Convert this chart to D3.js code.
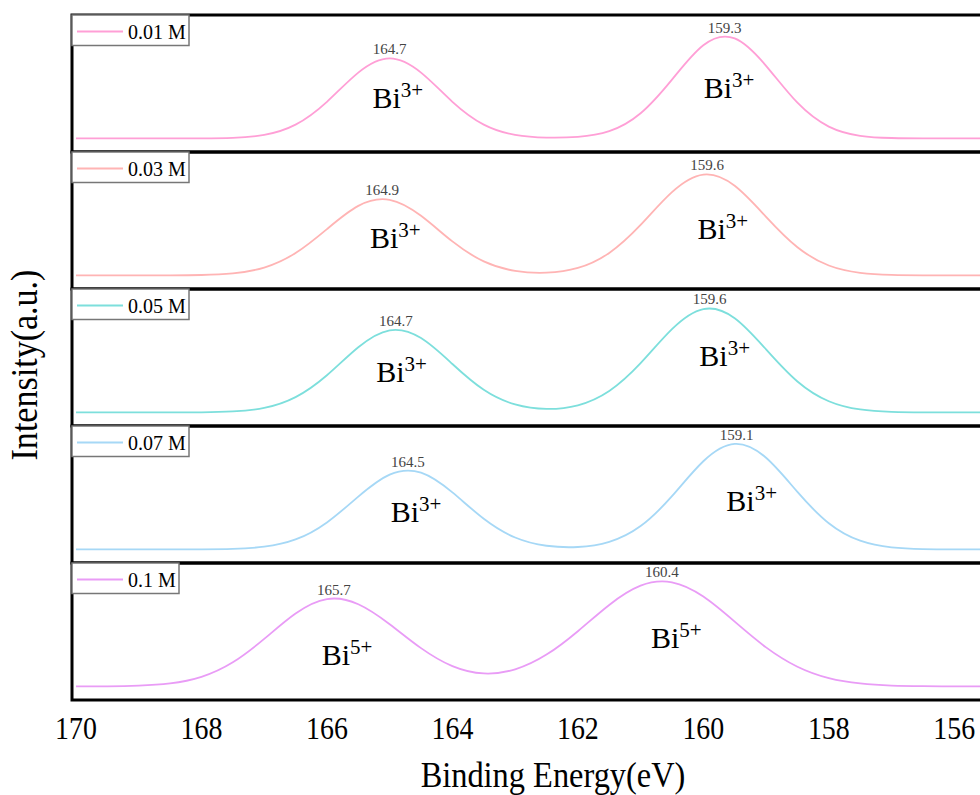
<!DOCTYPE html>
<html>
<head>
<meta charset="utf-8">
<script src="https://cdn.jsdelivr.net/npm/d3@7"></script>
<style>
  body { margin: 0; background: #fff; }
  svg { display: block; }
</style>
</head>
<body>
<svg width="980" height="795"></svg>
<script>
// binding energy grid (eV), read every 0.5 eV
energy = [170,169.5,169,168.5,168,167.5,167,166.5,166,165.5,165,164.5,164,163.5,163,162.5,162,161.5,161,160.5,160,159.5,159,158.5,158,157.5,157,156.5,156,155.5,155];

// intensity (a.u.), each panel
s001 = [0,0,0,0,0.1,0.6,3.4,13.2,35.0,62.9,76.5,62.9,35.0,13.2,3.4,0.8,1.5,6.9,24.0,56.2,89.1,95.6,69.4,34.1,11.3,2.5,0.4,0,0,0,0];
s003 = [0,0,0,0.1,0.4,1.9,7.5,21.4,44.3,66.5,72.3,57.0,32.5,13.4,4.3,2.6,7.1,21.5,48.3,79.6,96.4,85.7,56.0,26.9,9.5,2.5,0.5,0.1,0,0,0];
s005 = [0,0,0,0,0.1,0.9,4.3,14.6,35.5,62.3,78.5,71.1,46.3,21.6,7.6,3.3,6.8,20.5,47.1,79.6,98.8,90.1,60.3,29.6,10.7,2.8,0.6,0.1,0,0,0];
s007 = [0,0,0,0,0.1,0.5,2.6,9.5,25.8,50.5,71.5,73.4,54.5,29.3,11.4,3.5,2.3,7.2,22.3,50.9,84.3,100.9,87.6,55.0,25.0,8.3,2.0,0.3,0,0,0];
s010 = [0,0.1,0.7,2.8,9.1,23.0,45.4,69.7,83.5,78.6,59.5,36.6,19.4,12.4,16.3,30.4,52.8,77.9,96.3,99.5,85.9,61.9,37.3,18.8,7.9,2.8,0.8,0.2,0,0,0];

names = ["0.01 M","0.03 M","0.05 M","0.07 M","0.1 M"];
colors = ["#ff9fd6","#ffb4b4","#7ddfdc","#a6d8f6","#e99cf6"];

// peak value labels: text and [energy, intensity] where they sit
peakText = [["164.7","159.3"],["164.9","159.6"],["164.7","159.6"],["164.5","159.1"],["165.7","160.4"]];
peakAt = [[[165.0,76.5],[159.66,97]],[[165.12,73],[159.94,97]],[[164.9,79],[159.9,99.5]],[[164.71,75],[159.47,101]],[[165.89,84],[160.66,100.5]]];

// oxidation state labels
ionText = [["3+","3+"],["3+","3+"],["3+","3+"],["3+","3+"],["5+","5+"]];
ionAt = [[[164.87,28.7],[159.59,38.2]],[[164.91,25.8],[159.69,34.4]],[[164.81,29],[159.66,44]],[[164.58,25.8],[159.23,36.3]],[[165.68,20],[160.43,36.3]]];

xTicks = [170,168,166,164,162,160,158,156];

const serif = '"Liberation Serif", serif';
const width = 980, height = 795;
const panelTop = 15, panelH = 137;

const x = d3.scaleLinear().domain([170, 155]).range([76, 1017]);
const y = d3.scaleLinear().domain([-13, 118]).range([panelH, 0]);

const line = d3.line()
    .x((d, i) => x(energy[i]))
    .y(d => y(d))
    .curve(d3.curveNatural);

function draw() {
  const svg = d3.select("svg");
  const series = [s001, s003, s005, s007, s010];

  series.forEach(function(values, i) {
    const g = svg.append("g")
        .attr("transform", `translate(0,${panelTop + i * panelH})`);

    g.append("path")
        .datum(values)
        .attr("fill", "none")
        .attr("stroke", colors[i])
        .attr("stroke-width", 1.8)
        .attr("d", line);

    g.selectAll("text.peak")
      .data(peakText[i])
      .join("text")
        .attr("class", "peak")
        .attr("x", (d, j) => x(peakAt[i][j][0]))
        .attr("y", (d, j) => y(peakAt[i][j][1]) - 4)
        .attr("text-anchor", "middle")
        .style("font-family", serif)
        .style("font-size", "15px")
        .style("fill", "#444")
        .text(d => d);

    const ion = g.selectAll("text.ion")
      .data(ionText[i])
      .join("text")
        .attr("class", "ion")
        .attr("x", (d, j) => x(ionAt[i][j][0]))
        .attr("y", (d, j) => y(ionAt[i][j][1]))
        .attr("text-anchor", "middle")
        .style("font-family", serif)
        .style("fill", "#000");
    ion.append("tspan").style("font-size", "30px").text("Bi");
    ion.append("tspan").attr("dy", -11).style("font-size", "21px").text(d => d);

    // panel frame
    g.append("rect")
        .attr("x", x(170) - 4)
        .attr("y", 0)
        .attr("width", 1000)
        .attr("height", panelH)
        .attr("fill", "none")
        .attr("stroke", "#000")
        .attr("stroke-width", 3);

    // legend
    const lg = g.append("g");
    const box = lg.append("rect")
        .attr("x", x(170) - 4)
        .attr("y", 0)
        .attr("height", 30.5)
        .attr("fill", "#fff")
        .attr("stroke", "#777")
        .attr("stroke-width", 1.5);
    lg.append("line")
        .attr("x1", 77).attr("x2", 123)
        .attr("y1", 16.5).attr("y2", 16.5)
        .attr("stroke", colors[i])
        .attr("stroke-width", 1.8);
    const t = lg.append("text")
        .attr("x", 128)
        .attr("y", 23.5)
        .style("font-family", serif)
        .style("font-size", "20px")
        .style("fill", "#000")
        .text(names[i]);
    const bb = t.node().getBBox();
    box.attr("width", bb.x + bb.width + 3 - (x(170) - 4));
  });

  // x tick labels
  svg.append("g")
    .selectAll("text")
    .data(xTicks)
    .join("text")
      .attr("transform", d => `translate(${x(d)},739) scale(0.9,1)`)
      .attr("text-anchor", "middle")
      .style("font-family", serif)
      .style("font-size", "31px")
      .style("fill", "#000")
      .text(d => d);

  svg.append("text")
      .attr("transform", "translate(553,787) scale(0.9,1)")
      .attr("text-anchor", "middle")
      .style("font-family", serif)
      .style("font-size", "36px")
      .style("fill", "#000")
      .text("Binding Energy(eV)");

  svg.append("text")
      .attr("transform", "translate(37,365) rotate(-90) scale(0.92,1)")
      .attr("text-anchor", "middle")
      .style("font-family", serif)
      .style("font-size", "37px")
      .style("fill", "#000")
      .text("Intensity(a.u.)");
}
draw();
</script>
</body>
</html>
